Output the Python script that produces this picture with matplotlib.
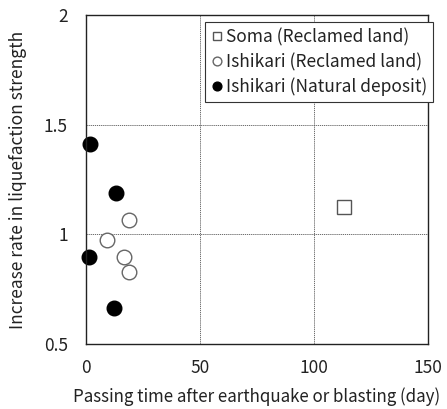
import matplotlib
matplotlib.use("Agg")
import matplotlib.pyplot as plt

plt.rcParams["font.family"] = ["Noto Sans CJK JP", "DejaVu Sans"]

# data
soma_x = [113.3]
soma_y = [1.123]

ishikari_rec_x = [18.9, 9.5, 16.8, 18.9]
ishikari_rec_y = [1.065, 0.974, 0.898, 0.830]

ishikari_nat_x = [1.8, 13.1, 1.5, 12.3]
ishikari_nat_y = [1.41, 1.19, 0.897, 0.663]

xticks = [0, 50, 100, 150]
yticks = [0.5, 1, 1.5, 2]
ytick_labels = ["0.5", "1", "1.5", "2"]

fig = plt.figure(figsize=(4.47, 4.09), dpi=100)
ax = fig.add_axes([0.192, 0.159, 0.765, 0.804])

ax.plot(soma_x, soma_y, linestyle="none", marker="s", markersize=10,
        markerfacecolor="white", markeredgecolor="#555555", markeredgewidth=1.0,
        label="Soma (Reclamed land)")
ax.plot(ishikari_rec_x, ishikari_rec_y, linestyle="none", marker="o", markersize=10.5,
        markerfacecolor="white", markeredgecolor="#666666", markeredgewidth=1.0,
        label="Ishikari (Reclamed land)")
ax.plot(ishikari_nat_x, ishikari_nat_y, linestyle="none", marker="o", markersize=10.5,
        markerfacecolor="black", markeredgecolor="black",
        label="Ishikari (Natural deposit)", clip_on=False)

ax.set_xlim(0, 150)
ax.set_ylim(0.5, 2)
ax.set_xticks(xticks)
ax.set_yticks(yticks)
ax.set_yticklabels(ytick_labels)
ax.tick_params(axis="x", length=0, labelsize=12.5, pad=11, colors="#222222")
ax.tick_params(axis="y", length=0, labelsize=12.5, pad=13, colors="#222222")

ax.grid(True, linestyle=(0, (1.5, 1)), color="#555555", linewidth=0.6)
for s in ax.spines.values():
    s.set_linewidth(1.0)
    s.set_color("#222222")

ax.set_xlabel("Passing time after earthquake or blasting (day)", fontsize=12.2,
              labelpad=7, color="#222222")
ax.set_ylabel("Increase rate in liquefaction strength", fontsize=12.5,
              labelpad=12, color="#222222")

leg = ax.legend(loc="upper left", bbox_to_anchor=(0.348, 0.979), borderaxespad=0,
                markerscale=0.6, fontsize=12.5, frameon=True, fancybox=False,
                edgecolor="#333333", handlelength=0.7, handletextpad=0.15,
                borderpad=0.35, labelspacing=0.38, framealpha=1)
leg.get_frame().set_linewidth(0.8)
for t in leg.get_texts():
    t.set_color("#222222")

fig.savefig("out.png", dpi=100)
